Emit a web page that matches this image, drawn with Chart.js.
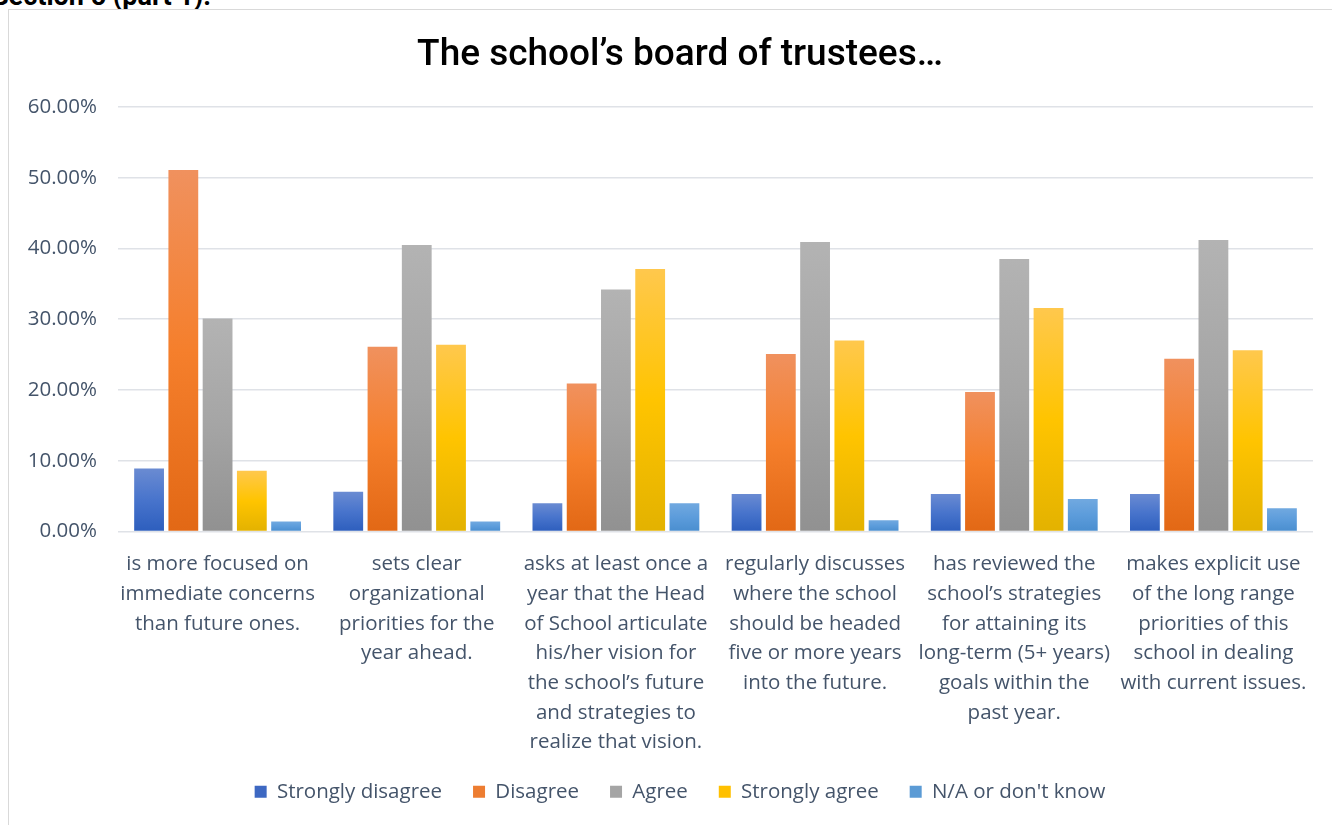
<!DOCTYPE html>
<html lang="en">
<head>
  <meta charset="UTF-8">
  <title>The school's board of trustees</title>
  <script src="https://cdn.jsdelivr.net/npm/chart.js"></script>
  <style>
    html, body {
      margin: 0;
      padding: 0;
      background: #fff;
      overflow: hidden;
      width: 1332px;
      height: 825px;
    }
    #heading {
      position: absolute;
      left: -8px;
      top: -20px;
      font-family: Roboto, Arial, sans-serif;
      font-weight: bold;
      font-size: 27px;
      color: #000;
      white-space: nowrap;
    }
    #box {
      position: absolute;
      left: 8px;
      top: 9px;
      width: 1342px;
      height: 845px;
      border: 1px solid #d9d9d9;
      background: #fff;
    }
    canvas {
      display: block;
    }
  </style>
</head>
<body>

  <div id="heading">Section 5 (part 1):</div>
  <div id="box">
    <canvas id="boardChart" width="1342" height="830"></canvas>
  </div>

  <script>
    const categories = [
      ['is more focused on', 'immediate concerns', 'than future ones.'],
      ['sets clear', 'organizational', 'priorities for the', 'year ahead.'],
      ['asks at least once a', 'year that the Head', 'of School articulate', 'his/her vision for', 'the school\u2019s future', 'and strategies to', 'realize that vision.'],
      ['regularly discusses', 'where the school', 'should be headed', 'five or more years', 'into the future.'],
      ['has reviewed the', 'school\u2019s strategies', 'for attaining its', 'long-term (5+ years)', 'goals within the', 'past year.'],
      ['makes explicit use', 'of the long range', 'priorities of this', 'school in dealing', 'with current issues.']
    ];

    // percent of respondents per answer
    const stronglyDisagree = [8.9, 5.6, 4.0, 5.3, 5.3, 5.3];
    const disagree         = [51.1, 26.1, 20.9, 25.1, 19.7, 24.4];
    const agree            = [30.1, 40.5, 34.2, 40.9, 38.5, 41.2];
    const stronglyAgree    = [8.6, 26.4, 37.1, 27.0, 31.6, 25.6];
    const notKnown         = [1.4, 1.4, 4.0, 1.6, 4.6, 3.3];

    const yTicks = [0, 10, 20, 30, 40, 50, 60];

    const labelColor = '#44546a';
    const gridColor = '#dfe2e7';
    const textFont = 'Open Sans';

    // top / middle / bottom shades of each bar
    const shades = {
      blue:   ['#6a8bd2', '#4874cc', '#2d5ebd'],
      orange: ['#f0915e', '#f57f2c', '#e26815'],
      gray:   ['#b3b3b3', '#a5a5a5', '#919191'],
      yellow: ['#ffc84d', '#ffc400', '#e3b200'],
      sky:    ['#71a9e0', '#5c9cdb', '#4a8ecf']
    };
    const solid = {
      blue: '#3d68c2', orange: '#ed7d31', gray: '#a5a5a5', yellow: '#ffc000', sky: '#5b9bd5'
    };

    function barGradient(name) {
      return function (context) {
        const chart = context.chart;
        const area = chart.chartArea;
        if (!area || context.type !== 'data') return solid[name];
        const y = chart.scales.y;
        const top = y.getPixelForValue(context.raw);
        const bottom = y.getPixelForValue(0);
        if (!isFinite(top) || bottom - top < 1) return shades[name][2];
        const g = chart.ctx.createLinearGradient(0, top, 0, bottom);
        g.addColorStop(0, shades[name][0]);
        g.addColorStop(0.5, shades[name][1]);
        g.addColorStop(1, shades[name][2]);
        return g;
      };
    }

    function makeSet(label, data, name) {
      return {
        label: label,
        data: data,
        colorKey: name,
        backgroundColor: barGradient(name),
        borderWidth: 0,
        categoryPercentage: 0.86,
        barPercentage: 0.87
      };
    }

    const ctx = document.getElementById('boardChart').getContext('2d');
    const chart = new Chart(ctx, {
      type: 'bar',
      data: {
        labels: categories,
        datasets: [
          makeSet('Strongly disagree', stronglyDisagree, 'blue'),
          makeSet('Disagree', disagree, 'orange'),
          makeSet('Agree', agree, 'gray'),
          makeSet('Strongly agree', stronglyAgree, 'yellow'),
          makeSet("N/A or don't know", notKnown, 'sky')
        ]
      },
      options: {
        responsive: false,
        animation: false,
        layout: { padding: { top: 0, left: 0, right: 0, bottom: 28 } },
        plugins: {
          title: {
            display: true,
            text: 'The school\u2019s board of trustees\u2026',
            color: '#000',
            font: { family: 'Roboto', size: 37, weight: '500', lineHeight: 1.2 },
            padding: { top: 24, bottom: 28.5 }
          },
          legend: {
            position: 'bottom',
            labels: {
              color: labelColor,
              font: { family: textFont, size: 20.5 },
              boxWidth: 12,
              boxHeight: 12,
              padding: 31,
              generateLabels: function (c) {
                return c.data.datasets.map(function (ds, i) {
                  return {
                    text: ds.label,
                    fillStyle: solid[ds.colorKey],
                    strokeStyle: solid[ds.colorKey],
                    lineWidth: 0,
                    fontColor: labelColor,
                    hidden: false,
                    datasetIndex: i
                  };
                });
              }
            }
          },
          tooltip: { enabled: false }
        },
        scales: {
          x: {
            grid: { display: false },
            border: { display: false },
            ticks: {
              color: labelColor,
              font: { family: textFont, size: 20.5, lineHeight: '29.7px' },
              maxRotation: 0,
              autoSkip: false,
              padding: 10
            },
            afterFit: function (scale) { scale.height = 219; }
          },
          y: {
            min: 0,
            max: 60,
            afterBuildTicks: function (scale) {
              scale.ticks = yTicks.map(function (v) { return { value: v }; });
            },
            grid: { color: gridColor, lineWidth: 1.5, drawTicks: false },
            border: { display: false },
            ticks: {
              color: labelColor,
              font: { family: textFont, size: 20.5 },
              padding: 21,
              callback: function (v) { return v.toFixed(2) + '%'; }
            },
            afterFit: function (scale) { scale.width = 109; }
          },
          side: {
            position: 'right',
            display: true,
            grid: { display: false },
            border: { display: false },
            ticks: { display: false },
            afterFit: function (scale) { scale.width = 38; }
          }
        }
      }
    });
  </script>

</body>
</html>
